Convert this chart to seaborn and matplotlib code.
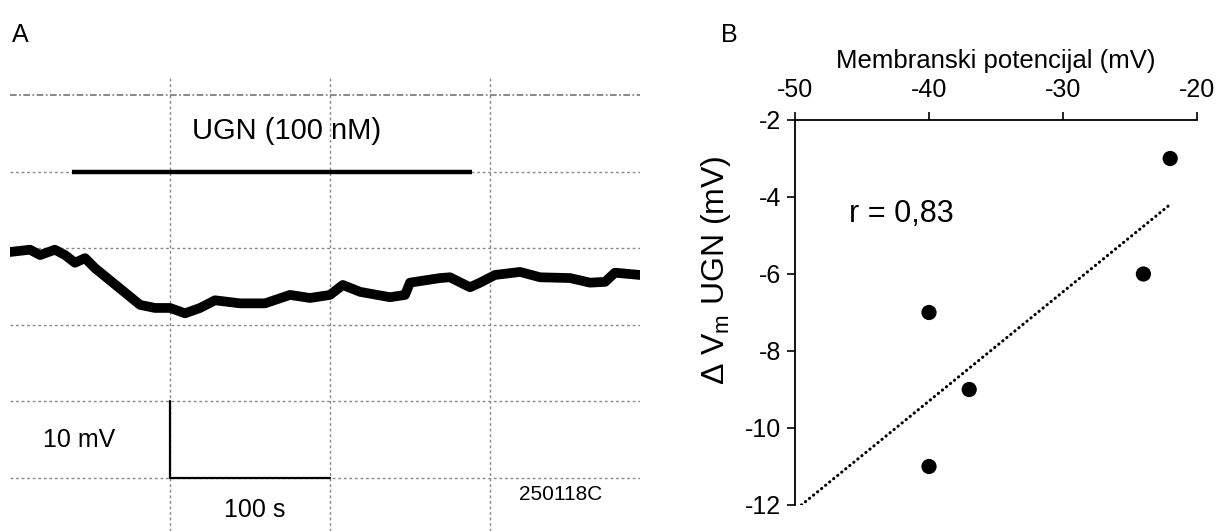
import numpy as np
import pandas as pd
import seaborn as sns
import matplotlib.pyplot as plt

sns.set_style("white")
plt.rcParams["font.family"] = ["Liberation Sans", "DejaVu Sans"]
plt.rcParams["mathtext.fontset"] = "custom"
plt.rcParams["mathtext.rm"] = "Liberation Sans"
plt.rcParams["mathtext.it"] = "Liberation Sans:italic"
plt.rcParams["axes.unicode_minus"] = False
plt.rcParams["text.color"] = "black"
plt.rcParams["axes.labelcolor"] = "black"
plt.rcParams["xtick.color"] = "black"
plt.rcParams["ytick.color"] = "black"

# A: membrane potential trace (s, mV)
trace_t = [0, 12.5, 18.8, 28.1, 34.4, 40.6, 46.9, 53.1, 62.5, 71.9, 81.3, 90.6,
           100, 109.4, 118.8, 128.1, 143.8, 159.4, 175, 187.5, 200, 208, 218.8,
           237.5, 246.9, 250, 268.8, 275, 287.5, 293.8, 303.1, 318.8, 331.3,
           350, 362.5, 371.9, 378.1, 393.8]
trace_mv = [29.5, 29.8, 29.1, 29.8, 29.1, 28.1, 28.7, 27.4, 25.8, 24.2, 22.6, 22.2,
            22.2, 21.5, 22.2, 23.2, 22.8, 22.8, 23.9, 23.5, 23.9, 25.2, 24.3,
            23.6, 23.9, 25.5, 26.1, 26.2, 24.9, 25.5, 26.5, 26.9, 26.2,
            26.1, 25.5, 25.6, 26.8, 26.5]
ugn_start, ugn_end, ugn_level = 39, 289, 40
grid_t = [100, 200, 300]
grid_mv = [0, 10, 20, 30, 40, 50]

# B: membrane potential vs UGN-induced change
pot = [-40, -40, -37, -24, -22]
dvm = [-7, -11, -9, -6, -3]
xticks_b = [-50, -40, -30, -20]
yticks_b = [-2, -4, -6, -8, -10, -12]

fig = plt.figure(figsize=(12.2, 5.31), dpi=100)

# ---- panel A
axA = fig.add_axes([10 / 1220, 0, 630 / 1220, 453 / 531])
axA.set_xlim(0, 393.75)
axA.set_ylim(-6.9, 52.2)
for t in grid_t:
    axA.axvline(t, color="#888888", lw=1, ls=(0, (2, 2)), zorder=1)
for v in grid_mv[:-1]:
    axA.axhline(v, color="#888888", lw=1, ls=(0, (2, 2)), zorder=1)
axA.axhline(grid_mv[-1], color="#777777", lw=1.2, ls=(0, (4, 1.5, 1, 1.5)), zorder=1)

sns.lineplot(x=trace_t, y=trace_mv, ax=axA, color="black", linewidth=7,
             sort=False, solid_joinstyle="round", zorder=3)
axA.plot([ugn_start, ugn_end], [ugn_level, ugn_level], color="black", lw=3.2,
         solid_capstyle="butt", zorder=3)
axA.text(173, 45.3, "UGN (100 nM)", ha="center", va="center", fontsize=21)

# scale bar: 10 mV, 100 s
axA.plot([100, 100, 200], [10, 0, 0], color="black", lw=1.6, zorder=3)
axA.text(43, 5, "10 mV", ha="center", va="center", fontsize=18)
axA.text(153, -4.2, "100 s", ha="center", va="center", fontsize=18)
axA.text(344, -2.2, "250118C", ha="center", va="center", fontsize=15)
axA.axis("off")

# ---- panel B
axB = fig.add_axes([795 / 1220, 1 - 505 / 531, 402 / 1220, 385 / 531])
df = pd.DataFrame({"pot": pot, "dvm": dvm})
sns.scatterplot(data=df, x="pot", y="dvm", ax=axB, color="black", s=120,
                edgecolor="none", zorder=3)

slope, icpt = np.polyfit(pot, dvm, 1)
r = np.corrcoef(pot, dvm)[0, 1]
x0 = (yticks_b[-1] - icpt) / slope
x1 = max(pot)
axB.plot([x0, x1], [slope * x0 + icpt, slope * x1 + icpt], color="black",
         lw=2.2, ls=(0, (0.1, 1.6)), dash_capstyle="round", zorder=2)
axB.text(-46.0, -4.45, f"r = {r:.2f}".replace(".", ","), ha="left", va="center",
         fontsize=22)

axB.set_xlim(-50, -20)
axB.set_ylim(-12, -2)
axB.set_xticks(xticks_b)
axB.set_yticks(yticks_b)
axB.xaxis.tick_top()
axB.xaxis.set_label_position("top")
axB.set_xlabel("Membranski potencijal (mV)", fontsize=18.5, labelpad=7)
axB.set_ylabel(r"Δ V$_\mathrm{m}$ UGN (mV)", fontsize=23)
axB.yaxis.set_label_coords(-0.155, 0.61)
axB.tick_params(axis="both", direction="out", length=6, width=1.2,
                labelsize=18, color="black", pad=4)
axB.tick_params(axis="x", top=True, bottom=False, pad=7)
axB.tick_params(axis="y", left=True, right=False)
for side in ["right", "bottom"]:
    axB.spines[side].set_visible(False)
for side in ["left", "top"]:
    axB.spines[side].set_color("black")
    axB.spines[side].set_linewidth(1.3)

fig.text(12 / 1220, 1 - 35 / 531, "A", fontsize=18, ha="left", va="center")
fig.text(721 / 1220, 1 - 35 / 531, "B", fontsize=18, ha="left", va="center")

fig.savefig("out.png", dpi=100)
